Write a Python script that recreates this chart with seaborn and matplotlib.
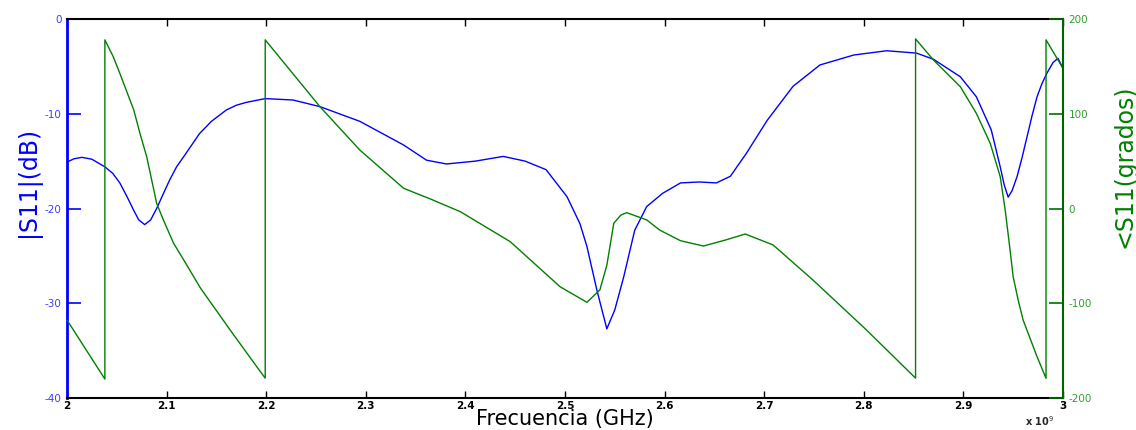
import matplotlib
matplotlib.use("Agg")
import matplotlib.pyplot as plt
from matplotlib.ticker import FuncFormatter, FixedLocator
import numpy as np
import pandas as pd
import seaborn as sns

# ---------------- data ----------------
freq_mag_ghz = [2.000, 2.007, 2.015, 2.025, 2.038, 2.046, 2.053, 2.060, 2.067, 2.072,
                2.078, 2.084, 2.090, 2.096, 2.103, 2.110, 2.118, 2.133, 2.145, 2.160,
                2.170, 2.180, 2.199, 2.227, 2.254, 2.294, 2.338, 2.361, 2.381, 2.410,
                2.438, 2.460, 2.481, 2.502, 2.515, 2.522, 2.532, 2.542, 2.550, 2.559,
                2.570, 2.582, 2.598, 2.616, 2.635, 2.652, 2.666, 2.682, 2.703, 2.729,
                2.756, 2.790, 2.823, 2.853, 2.870, 2.897, 2.913, 2.928, 2.937, 2.941,
                2.945, 2.949, 2.954, 2.959, 2.964, 2.969, 2.974, 2.979, 2.984, 2.990,
                2.995, 3.000]
mag_db = [-15.1, -14.75, -14.6, -14.8, -15.6, -16.3, -17.3, -18.7, -20.2, -21.2,
          -21.7, -21.2, -20.0, -18.6, -17.0, -15.6, -14.4, -12.1, -10.8, -9.6,
          -9.1, -8.8, -8.4, -8.55, -9.25, -10.8, -13.3, -14.9, -15.3, -15.0,
          -14.5, -15.0, -15.9, -18.75, -21.6, -24.0, -28.6, -32.7, -30.7, -27.2,
          -22.3, -19.8, -18.4, -17.3, -17.2, -17.3, -16.6, -14.2, -10.7, -7.1,
          -4.85, -3.8, -3.35, -3.6, -4.25, -6.1, -8.2, -11.7, -15.6, -17.5,
          -18.8, -18.1, -16.6, -14.6, -12.4, -10.2, -8.2, -6.8, -5.7, -4.6,
          -4.15, -5.2]

freq_ph_ghz = [2.000, 2.038, 2.038, 2.0465, 2.053, 2.067, 2.0733, 2.080, 2.090, 2.0967,
               2.107, 2.117, 2.134, 2.165, 2.194, 2.199, 2.199, 2.254, 2.294,
               2.338, 2.365, 2.395, 2.445, 2.495, 2.522, 2.535, 2.542, 2.549, 2.556,
               2.562, 2.582, 2.595, 2.616, 2.639, 2.662, 2.681, 2.709, 2.749, 2.801,
               2.852, 2.852, 2.870, 2.897, 2.913, 2.927, 2.937, 2.942, 2.946, 2.950,
               2.955, 2.960, 2.974, 2.983, 2.983, 3.000]
phase_deg = [-117.7, -180.0, 178.0, 160.0, 142.7, 104.0, 79.0, 54.7, 5.5, -12.0,
             -36.7, -54.0, -84.0, -130.0, -172.0, -179.0, 178.0, 107.4, 61.7,
             21.3, 10.0, -3.4, -35.0, -82.5, -99.0, -86.0, -60.0, -15.6, -7.0,
             -4.4, -12.0, -22.7, -34.0, -39.6, -33.0, -26.9, -38.5, -75.5, -126.5,
             -179.0, 179.0, 156.7, 128.5, 100.5, 68.8, 33.6, -1.6, -36.0, -72.0,
             -96.5, -117.7, -156.4, -179.2, 178.0, 148.0]

x_ticks_ghz = [2, 2.1, 2.2, 2.3, 2.4, 2.5, 2.6, 2.7, 2.8, 2.9, 3]
mag_ticks = [0, -10, -20, -30, -40]
phase_ticks = [200, 100, 0, -100, -200]

mag_df = pd.DataFrame({"f": np.array(freq_mag_ghz) * 1e9, "v": mag_db})
ph_df = pd.DataFrame({"f": np.array(freq_ph_ghz) * 1e9, "v": phase_deg})

# ---------------- style ----------------
sns.set_style("white")
plt.rcParams["font.family"] = ["DejaVu Sans"]
plt.rcParams["axes.unicode_minus"] = False

BLUE = "#0000ff"
GREEN = "#008000"

fig, ax = plt.subplots(figsize=(11.36, 4.30), dpi=100)
fig.subplots_adjust(left=0.059, right=0.9357, bottom=0.0744, top=0.9558)

sns.lineplot(data=mag_df, x="f", y="v", ax=ax, color=BLUE, linewidth=1.0,
             estimator=None, sort=False)
ax2 = ax.twinx()
sns.lineplot(data=ph_df, x="f", y="v", ax=ax2, color=GREEN, linewidth=1.0,
             estimator=None, sort=False)

ax.set_xlim(2e9, 3e9)
ax.set_ylim(-40, 0)
ax2.set_ylim(-200, 200)

ax.xaxis.set_major_locator(FixedLocator([t * 1e9 for t in x_ticks_ghz]))
ax.xaxis.set_major_formatter(FuncFormatter(lambda v, p: f"{v / 1e9:g}"))
ax.set_yticks(mag_ticks)
ax2.set_yticks(phase_ticks)

# spines
for s in ["top", "bottom"]:
    ax.spines[s].set_color("black")
    ax.spines[s].set_linewidth(1.5)
ax.spines["left"].set_color(BLUE)
ax.spines["left"].set_linewidth(2.0)
ax.spines["right"].set_visible(False)
ax2.spines["right"].set_color("#006400")
ax2.spines["right"].set_linewidth(1.5)
for s in ["top", "bottom", "left"]:
    ax2.spines[s].set_visible(False)

# ticks
ax.tick_params(axis="x", direction="in", length=5, width=1.0, top=True, bottom=True,
               colors="black", labelsize=7.5, pad=2)
for lab in ax.get_xticklabels():
    lab.set_fontweight("bold")
ax.tick_params(axis="y", direction="in", length=10, width=1.2, left=True,
               color=BLUE, labelcolor="#3c3cff", labelsize=7.5, pad=4)
ax2.tick_params(axis="y", direction="in", length=10, width=1.2, right=True,
                color="#007000", labelcolor="#30a030", labelsize=7.5, pad=4)

# labels
ax.set_xlabel("Frecuencia (GHz)", fontsize=15, color="black", va="top")
ax.xaxis.set_label_coords(0.5, -0.030)
ax.set_ylabel("|S11|(dB)", fontsize=17, color=BLUE, va="center", ha="center")
ax.yaxis.set_label_coords(-0.039, 0.57)
ax2.set_ylabel("<S11(grados)", fontsize=17, color=GREEN, rotation=90,
               va="center", ha="center")
ax2.yaxis.set_label_coords(1.062, 0.612)

ax.text(0.977, -0.061, "x 10$^{9}$", transform=ax.transAxes, fontsize=7,
        fontweight="bold", ha="center", va="center")

ax.grid(False)
ax2.grid(False)
legend = ax.get_legend()
if legend:
    legend.remove()

fig.savefig("out.png", dpi=100)
